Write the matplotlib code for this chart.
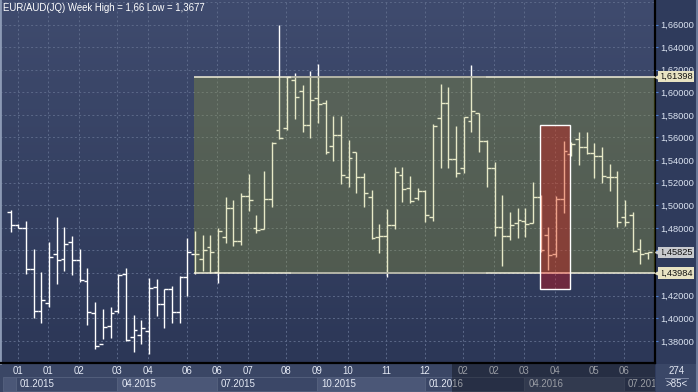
import matplotlib.pyplot as plt
import numpy as np
from matplotlib.patches import Rectangle
from matplotlib.colors import LinearSegmentedColormap
from matplotlib.transforms import blended_transform_factory

plt.rcParams['font.family'] = ['Liberation Sans', 'DejaVu Sans']

title = "EUR/AUD(JQ) Week High = 1,66 Low = 1,3677"

# weekly OHLC
opens = [1.4938, 1.4826, 1.4796, 1.4433, 1.4062, 1.4133, 1.4566, 1.4528, 1.4672, 1.4513,
         1.4327, 1.4044, 1.3770, 1.3935, 1.4062, 1.4395, 1.3838, 1.3852, 1.3885, 1.4280,
         1.4124, 1.4256, 1.4058, 1.4362, 1.4566, 1.4522, 1.4628, 1.4407, 1.4717, 1.4973,
         1.4687, 1.5083, 1.4796, 1.4788, 1.5053, 1.5667, 1.5681, 1.6109, 1.6009, 1.5708,
         1.5947, 1.5905, 1.5525, 1.5619, 1.5254, 1.5475, 1.5254, 1.5077, 1.4717, 1.4729,
         1.4826, 1.5268, 1.5153, 1.5065, 1.5124, 1.4894, 1.5770, 1.5908, 1.5407, 1.5327,
         1.5749, 1.5814, 1.5572, 1.5327, 1.4811, 1.4731, 1.4846, 1.4861, 1.4841, 1.5077,
         1.4737, 1.4566, 1.5053, 1.5451, 1.5584, 1.5513, 1.5460, 1.5436, 1.5248, 1.5254,
         1.4894, 1.4914, 1.4610, 1.4577]
highs = [1.4959, 1.4832, 1.4861, 1.4613, 1.4410, 1.4675, 1.4897, 1.4811, 1.4728, 1.4613,
         1.4442, 1.4144, 1.4082, 1.4103, 1.4389, 1.4442, 1.4029, 1.3985, 1.4357, 1.4351,
         1.4256, 1.4285, 1.4374, 1.4707, 1.4776, 1.4737, 1.4737, 1.4796, 1.5071, 1.5047,
         1.5106, 1.5277, 1.4914, 1.5304, 1.5563, 1.6596, 1.6139, 1.6174, 1.6065, 1.6192,
         1.6251, 1.5932, 1.5790, 1.5790, 1.5578, 1.5475, 1.5283, 1.5136, 1.4835, 1.4967,
         1.5336, 1.5336, 1.5260, 1.5150, 1.5136, 1.5720, 1.6074, 1.6044, 1.5702, 1.5785,
         1.6242, 1.5820, 1.5578, 1.5386, 1.5091, 1.4937, 1.4973, 1.4973, 1.5206, 1.5090,
         1.4811, 1.5083, 1.5572, 1.5560, 1.5652, 1.5652, 1.5554, 1.5513, 1.5366, 1.5304,
         1.5047, 1.4938, 1.4702, 1.4590]
lows = [1.4767, 1.4796, 1.4395, 1.4006, 1.3961, 1.4103, 1.4307, 1.4422, 1.4383, 1.4324,
        1.3944, 1.3731, 1.3817, 1.3823, 1.4044, 1.3799, 1.3705, 1.3773, 1.3681, 1.4023,
        1.3911, 1.3955, 1.3955, 1.4197, 1.4392, 1.4422, 1.4404, 1.4310, 1.4664, 1.4640,
        1.4649, 1.4950, 1.4752, 1.4788, 1.4988, 1.5584, 1.5667, 1.5767, 1.5652, 1.5599,
        1.5731, 1.5451, 1.5395, 1.5185, 1.5159, 1.5106, 1.4982, 1.4699, 1.4581, 1.4363,
        1.4788, 1.5032, 1.5018, 1.5047, 1.4855, 1.4864, 1.5333, 1.5333, 1.5248, 1.5283,
        1.5646, 1.5469, 1.5159, 1.4731, 1.4465, 1.4693, 1.4713, 1.4722, 1.4841, 1.4590,
        1.4428, 1.4545, 1.4935, 1.5440, 1.5357, 1.5451, 1.5239, 1.5195, 1.5130, 1.4805,
        1.4820, 1.4590, 1.4481, 1.4522]
closes = [1.4826, 1.4802, 1.4433, 1.4062, 1.4162, 1.4540, 1.4513, 1.4655, 1.4513, 1.4339,
          1.4053, 1.3755, 1.3926, 1.4050, 1.4380, 1.3805, 1.3894, 1.3914, 1.4265, 1.4124,
          1.4256, 1.4058, 1.4362, 1.4583, 1.4566, 1.4605, 1.4584, 1.4776, 1.4979, 1.4687,
          1.5083, 1.5044, 1.4782, 1.5053, 1.5554, 1.5593, 1.6133, 1.5962, 1.5708, 1.5929,
          1.5894, 1.5475, 1.5619, 1.5265, 1.5416, 1.5254, 1.5112, 1.4708, 1.4729, 1.4826,
          1.5292, 1.5142, 1.5035, 1.5124, 1.4914, 1.5705, 1.5903, 1.5407, 1.5283, 1.5779,
          1.5835, 1.5572, 1.5327, 1.4811, 1.4731, 1.4825, 1.4870, 1.4834, 1.5077, 1.4602,
          1.4560, 1.5053, 1.5481, 1.5540, 1.5519, 1.5460, 1.5433, 1.5260, 1.5248, 1.4849,
          1.4849, 1.4596, 1.4566, 1.45825]

month_pos = [0.9, 4.9, 8.9, 13.9, 17.9, 22.9, 26.9, 30.9, 35.9, 39.9, 43.9, 48.9, 53.9,
             58.9, 62.9, 66.9, 70.9, 75.9, 79.9]
month_labels = ['01', '01', '02', '03', '04', '06', '06', '07', '08', '09', '10', '11', '12',
                '02', '02', '03', '04', '05', '06']
quarter_pos = [0.7, 13.9, 26.9, 39.9, 53.9, 66.9, 79.9]
quarter_labels = ['01.2015', '04.2015', '07.2015', '10.2015', '01.2016', '04.2016', '07.2016']

range_top, range_bottom = 1.61398, 1.43984
last_price = 1.45825
box_hi, box_lo = 1.5708, 1.4257

W, H = 698, 392
xmin, xmax = -1.393, 83.9
ymin, ymax = 1.3604, 1.6817

fig = plt.figure(figsize=(W / 100, H / 100), dpi=100, facecolor='#2f3b5c')

# bottom strip (time scale)
axb = fig.add_axes([0, 0, 655 / W, 29 / H])
axb.set_zorder(-1)
axb.set_xlim(xmin, xmax)
axb.set_ylim(392, 363)
axb.axis('off')
axb.add_patch(Rectangle((xmin, 363), xmax - xmin, 29, fc='#3a4665', ec='none'))
qp = quarter_pos + [xmax]
for i, lab in enumerate(quarter_labels):
    fc = '#4b5777' if i % 2 else '#3b4767'
    axb.add_patch(Rectangle((qp[i], 376.5), qp[i + 1] - qp[i], 14.5, fc=fc, ec='#56627f', lw=0.6))
    axb.text(qp[i] + 0.5, 384, lab, color='#e4e9f4', fontsize=7, va='center', ha='left',
             clip_on=True)
axb.add_patch(Rectangle((-1.0, 376.5), 1.7, 14.5, fc='#4b5777', ec='#56627f', lw=0.6))

# main price panel
ax = fig.add_axes([0, 29 / H, 655 / W, 363 / H])
ax.set_xlim(xmin, xmax)
ax.set_ylim(ymin, ymax)
cmap = LinearSegmentedColormap.from_list('bg', ['#3f4b6e', '#2c3757'])
ax.imshow(np.linspace(0, 1, 256).reshape(-1, 1), extent=[xmin, xmax, ymin, ymax],
          aspect='auto', cmap=cmap, origin='upper', zorder=0)

levels = np.arange(1.36, 1.69, 0.02)
for lv in levels:
    ax.axhline(lv, color='#5c6989', lw=0.7, dashes=(2, 2.5), zorder=1)
for mp in month_pos:
    ax.axvline(mp, color='#5c6989', lw=0.7, dashes=(2, 2.5), zorder=1)

x = np.arange(len(closes))
ax.vlines(x, lows, highs, color='white', lw=1.0, zorder=2)
ax.hlines(opens, x - 0.5, x, color='white', lw=1.0, zorder=2)
ax.hlines(closes, x, x + 0.5, color='white', lw=1.0, zorder=2)

# trading range box
g0 = 23.87
ax.add_patch(Rectangle((g0, range_bottom), xmax - g0, range_top - range_bottom,
                       fc=(0.66, 0.69, 0.19), alpha=0.27, ec='none', zorder=3))
ax.hlines([range_top, range_bottom], g0, xmax, color='#f2efd8', lw=1.1, zorder=4)
ax.hlines([range_top, range_bottom], 36.5, 61.9, color='#a9ab9e', lw=1.1, zorder=4)

# highlighted weeks
ax.add_patch(Rectangle((68.95, box_lo), 3.9, box_hi - box_lo,
                       fc=(1, 0, 0), alpha=0.30, ec='none', zorder=5))
ax.add_patch(Rectangle((68.95, box_lo), 3.9, box_hi - box_lo,
                       fill=False, ec='white', lw=1.0, zorder=6))

# axes styling
yt = np.arange(1.38, 1.661, 0.02)
ax.yaxis.tick_right()
ax.set_yticks(yt)
ax.set_yticklabels([f"{v:.5f}".replace('.', ',') for v in yt])
ax.tick_params(axis='y', length=2, width=0.8, color='#4f7fd0', pad=1.5,
               labelsize=6.7, labelcolor='#dce4f2')
ax.set_xticks(month_pos)
ax.set_xticklabels(month_labels)
ax.tick_params(axis='x', length=0, pad=2.5, labelsize=6.9, labelcolor='#e4e9f4')
ax.spines['top'].set_visible(False)
ax.spines['right'].set_color('black')
ax.spines['right'].set_linewidth(1.6)
ax.spines['bottom'].set_color('black')
ax.spines['bottom'].set_linewidth(1.6)
ax.spines['left'].set_color('#8c9ab5')
ax.spines['left'].set_linewidth(2)

# price tags on the scale
tr = blended_transform_factory(ax.transAxes, ax.transData)
for val, col in [(range_top, '#e8e3c3'), (last_price, '#c9cbcf'), (range_bottom, '#e8e3c3')]:
    ax.text(1.0 + 4 / 655, val, f"{val:.5f}".replace('.', ','), transform=tr,
            fontsize=6.7, color='#111111', va='center', ha='left', zorder=10, clip_on=False,
            bbox=dict(boxstyle='square,pad=0.15', fc=col, ec='none'))
    ax.plot([1.0 + 2.5 / 655], [val], marker='<', ms=4, color=col, transform=tr,
            clip_on=False, zorder=10)

fig.text(3 / W, 1 - 8 / H, title, color='white', fontsize=6.9, va='center', ha='left')

# darkened future part of the time scale
fig.add_artist(Rectangle((452 / W, 0), (655 - 452) / W, 28 / H, transform=fig.transFigure,
                         fc='black', alpha=0.33, ec='none', zorder=2))

# corner box
fig.add_artist(Rectangle((656 / W, 0), 42 / W, 28 / H, transform=fig.transFigure,
                         fc='#3a4767', ec='none', zorder=2))
fig.text(676.5 / W, 1 - 371.5 / H, '274', color='#e4e9f4', fontsize=7, ha='center',
         va='center', zorder=3)
fig.text(676.5 / W, 1 - 384 / H, '>85<', color='#e4e9f4', fontsize=7, ha='center',
         va='center', zorder=3)
fig.add_artist(plt.Line2D([665 / W, 688 / W], [1 - 378 / H, 1 - 378 / H],
                          transform=fig.transFigure, color='#8893ad', lw=0.6, zorder=3))
fig.add_artist(plt.Line2D([697 / W, 697 / W], [0, 1], transform=fig.transFigure,
                          color='#6b7a99', lw=1.5, zorder=3))

fig.savefig('out.png', dpi=100, facecolor=fig.get_facecolor())
